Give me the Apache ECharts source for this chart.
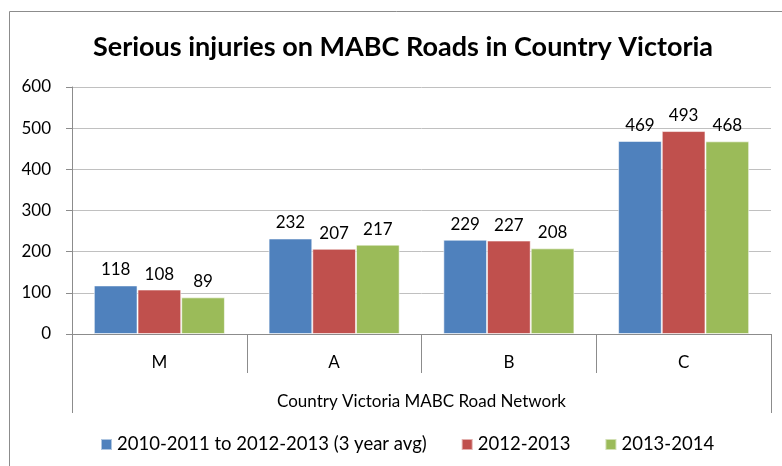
<!DOCTYPE html>
<html>
<head>
<meta charset="utf-8">
<script src="https://cdn.jsdelivr.net/npm/echarts@6/dist/echarts.min.js"></script>
<style>
  html, body { margin: 0; padding: 0; background: #fff; }
  #chart { width: 782px; height: 466px; }
</style>
</head>
<body>
<div id="chart"></div>
<script>
// data
var categories = ['M', 'A', 'B', 'C'];
var seriesNames = ['2010-2011 to 2012-2013 (3 year avg)', '2012-2013', '2013-2014'];
var avg3yr = [118, 232, 229, 469];
var y2012 = [108, 207, 227, 493];
var y2013 = [89, 217, 208, 468];
var groupLabel = ['Country Victoria MABC Road Network'];
var colors = ['#4F81BD', '#C0504D', '#9BBB59'];

var font = 'Lato, "Open Sans", sans-serif';
var gray = '#8c8c8c';

function barSeries(name, values, color) {
    return {
        name: name,
        type: 'bar',
        xAxisIndex: 0,
        barGap: '0%',
        barCategoryGap: '25%',
        data: values,
        itemStyle: {
            color: color,
            borderColor: 'rgba(255,255,255,0.55)',
            borderWidth: 1
        },
        label: {
            show: true,
            position: 'top',
            distance: 7,
            color: '#000',
            fontFamily: font,
            fontSize: 17
        }
    };
}

var chart = echarts.init(document.getElementById('chart'));
chart.setOption({
    animation: false,
    color: colors,
    title: {
        text: 'Serious injuries on MABC Roads in Country Victoria',
        left: 398,
        top: 29,
        textAlign: 'center',
        textStyle: {
            fontFamily: font,
            fontSize: 27,
            fontWeight: 'bold',
            color: '#000'
        }
    },
    graphic: [{
        type: 'rect',
        shape: { x: 9.5, y: 11.5, width: 800, height: 500 },
        style: { fill: 'none', stroke: gray, lineWidth: 1 },
        silent: true
    }],
    legend: {
        top: 430,
        left: 95,
        itemWidth: 11,
        itemHeight: 11,
        itemGap: 34,
        icon: 'rect',
        data: seriesNames,
        textStyle: { fontFamily: font, fontSize: 18.5, color: '#000' }
    },
    grid: { left: 72, right: 11, top: 87, bottom: 132 },
    xAxis: [{
        type: 'category',
        data: categories,
        axisLine: { show: true, lineStyle: { color: gray } },
        axisTick: { show: true, length: 39, interval: 0, lineStyle: { color: gray } },
        axisLabel: { margin: 20, fontFamily: font, fontSize: 17, color: '#000' }
    }, {
        type: 'category',
        data: groupLabel,
        position: 'bottom',
        offset: 39,
        axisLine: { show: false },
        axisTick: { show: true, length: 40, interval: 0, lineStyle: { color: gray } },
        axisLabel: { margin: 20, fontFamily: font, fontSize: 17, color: '#000' }
    }],
    yAxis: {
        type: 'value',
        min: 0,
        max: 600,
        interval: 100,
        axisLine: { show: true, lineStyle: { color: gray } },
        axisTick: { show: true, length: 6, lineStyle: { color: gray } },
        axisLabel: { margin: 21, fontFamily: font, fontSize: 17, color: '#000' },
        splitLine: { lineStyle: { color: '#c0c0c0' } }
    },
    series: [
        barSeries(seriesNames[0], avg3yr, colors[0]),
        barSeries(seriesNames[1], y2012, colors[1]),
        barSeries(seriesNames[2], y2013, colors[2])
    ]
});
</script>
</body>
</html>
